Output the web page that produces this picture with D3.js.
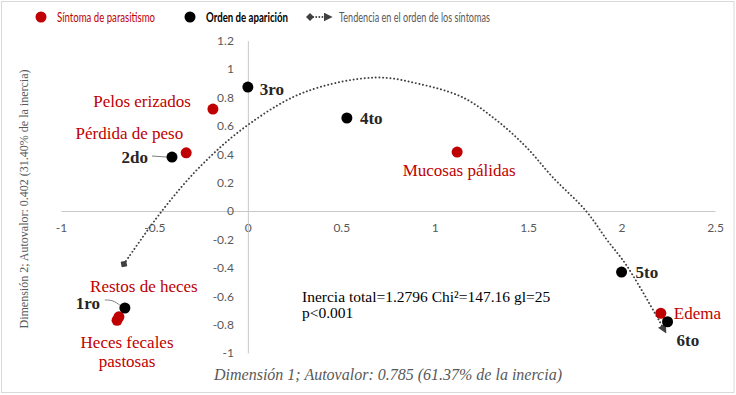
<!DOCTYPE html>
<html>
<head>
<meta charset="utf-8">
<script src="https://cdn.jsdelivr.net/npm/d3@7"></script>
<style>
body { margin: 0; background: #fff; }
</style>
</head>
<body>
<div id="chart"></div>
<script>
// síntomas de parasitismo: coordenadas en dimensión 1 y 2
var sintomas = ["Pelos erizados", "Pérdida de peso", "Mucosas pálidas", "Restos de heces", "Heces fecales pastosas", "Edema"];
var sintomaX = [-0.187, -0.33, 1.12, -0.69, -0.70, 2.21];
var sintomaY = [0.718, 0.41, 0.415, -0.745, -0.77, -0.72];

// orden de aparición
var orden = ["1ro", "2do", "3ro", "4to", "5to", "6to"];
var ordenX = [-0.658, -0.406, 0, 0.53, 2.0, 2.246];
var ordenY = [-0.683, 0.38, 0.873, 0.655, -0.43, -0.78];

// tendencia en el orden de los síntomas
var tendX = [-0.663, -0.46, -0.25, 0, 0.3, 0.68, 0.92, 1.15, 1.33, 1.49, 1.63, 1.81, 1.92, 2.03, 2.23];
var tendY = [-0.373, 0, 0.32, 0.606, 0.835, 0.94, 0.894, 0.80, 0.64, 0.45, 0.24, 0, -0.2, -0.39, -0.84];

var xTicks = [-1, -0.5, 0, 0.5, 1, 1.5, 2, 2.5];
var yTicks = [-1, -0.8, -0.6, -0.4, -0.2, 0, 0.2, 0.4, 0.6, 0.8, 1, 1.2];

var legendLabels = ["Síntoma de parasitismo", "Orden de aparición", "Tendencia en el orden de los síntomas"];
var xTitle = "Dimensión 1; Autovalor: 0.785 (61.37% de la inercia)";
var yTitle = "Dimensión 2; Autovalor: 0.402 (31.40% de la inercia)";
var notes = ["Inercia total=1.2796 Chi²=147.16 gl=25", "p<0.001"];

var W = 736, H = 395;
var red = "#c00000", gray = "#595959", axisGray = "#c8c8c8", trendGray = "#404040";
var serif = "'Liberation Serif', 'Times New Roman', serif";
var sans = "Lato, 'Open Sans', sans-serif";

var svg = d3.select("#chart").append("svg")
    .attr("width", W)
    .attr("height", H);

// outer frame
svg.append("rect")
    .attr("x", 1.5).attr("y", 1.5)
    .attr("width", W - 3.5).attr("height", H - 4)
    .attr("fill", "#fff")
    .attr("stroke", "#d9d9d9");

// scales
var x = d3.scaleLinear().domain([-1, 2.5]).range([61, 715]);
var y = d3.scaleLinear().domain([-1, 1.2]).range([353, 40.6]);

// axes crossing at the origin
var xAxis = svg.append("g")
    .attr("transform", "translate(0," + y(0) + ")")
    .call(d3.axisBottom(x).tickValues(xTicks).tickSize(0).tickPadding(12)
        .tickFormat(function (d) { return String(d); }));
var yAxis = svg.append("g")
    .attr("transform", "translate(" + x(0) + ",0)")
    .call(d3.axisLeft(y).tickValues(yTicks).tickSize(0).tickPadding(14)
        .tickFormat(function (d) { return String(Math.round(d * 10) / 10); }));

[xAxis, yAxis].forEach(function (a) {
    a.select(".domain").attr("stroke", axisGray);
    a.selectAll("text")
        .attr("fill", gray)
        .style("font-family", sans)
        .style("font-size", "12px");
});

// axis titles
svg.append("text")
    .attr("x", 388).attr("y", 380)
    .attr("text-anchor", "middle")
    .style("font-family", serif)
    .style("font-style", "italic")
    .style("font-size", "16px")
    .attr("fill", gray)
    .text(xTitle);
svg.append("text")
    .attr("transform", "translate(28,199) rotate(-90)")
    .attr("text-anchor", "middle")
    .style("font-family", serif)
    .style("font-size", "12px")
    .attr("fill", gray)
    .text(yTitle);

// markers for the trend line
var defs = svg.append("defs");
defs.append("marker")
    .attr("id", "arrow")
    .attr("viewBox", "0 -5 10 10")
    .attr("refX", 6).attr("refY", 0)
    .attr("markerWidth", 9).attr("markerHeight", 9)
    .attr("markerUnits", "userSpaceOnUse")
    .attr("orient", "auto")
    .append("path")
        .attr("d", "M0,-5L10,0L0,5Z")
        .attr("fill", trendGray);
defs.append("marker")
    .attr("id", "diamond")
    .attr("viewBox", "-5 -5 10 10")
    .attr("refX", 0).attr("refY", 0)
    .attr("markerWidth", 8).attr("markerHeight", 8)
    .attr("markerUnits", "userSpaceOnUse")
    .attr("orient", "auto")
    .append("path")
        .attr("d", "M-5,0L0,-5L5,0L0,5Z")
        .attr("fill", trendGray);

// trend line
var tend = tendX.map(function (d, i) { return [d, tendY[i]]; });
svg.append("path")
    .datum(tend)
    .attr("d", d3.line()
        .x(function (d) { return x(d[0]); })
        .y(function (d) { return y(d[1]); })
        .curve(d3.curveCatmullRom))
    .attr("fill", "none")
    .attr("stroke", trendGray)
    .attr("stroke-width", 1.9)
    .attr("stroke-dasharray", "0.1,3.6")
    .attr("stroke-linecap", "round")
    .attr("marker-start", "url(#diamond)")
    .attr("marker-end", "url(#arrow)");

// label placement (pixel offsets from each point)
var sintomaPos = {
    "Pelos erizados": { dx: -22, dy: -2, anchor: "end" },
    "Pérdida de peso": { dx: -3, dy: -14, anchor: "end" },
    "Mucosas pálidas": { dx: 2, dy: 24, anchor: "middle" },
    "Restos de heces": { dx: 25, dy: -25, anchor: "middle" },
    "Heces fecales pastosas": { dx: 10, dy: 28, anchor: "middle", lines: ["Heces fecales", "pastosas"] },
    "Edema": { dx: 13, dy: 6, anchor: "start" }
};
var ordenPos = {
    "1ro": { dx: -25, dy: 1, anchor: "end", lead: [[-20, -8], [-12, -8], [-4, -2]] },
    "2do": { dx: -24, dy: 6, anchor: "end", lead: [[-20, -1], [-5, 0]] },
    "3ro": { dx: 12, dy: 8, anchor: "start" },
    "4to": { dx: 13, dy: 6, anchor: "start" },
    "5to": { dx: 14, dy: 6, anchor: "start" },
    "6to": { dx: 9, dy: 24, anchor: "start" }
};

var sData = sintomas.map(function (d, i) { return { name: d, x: sintomaX[i], y: sintomaY[i] }; });
var oData = orden.map(function (d, i) { return { name: d, x: ordenX[i], y: ordenY[i] }; });

// leader lines for order labels
svg.selectAll(".lead")
    .data(oData.filter(function (d) { return ordenPos[d.name].lead; }))
    .enter().append("path")
        .attr("class", "lead")
        .attr("d", function (d) {
            var px = x(d.x), py = y(d.y);
            return d3.line().curve(d3.curveBasis)(ordenPos[d.name].lead.map(function (p) { return [px + p[0], py + p[1]]; }));
        })
        .attr("fill", "none")
        .attr("stroke", "#7f7f7f")
        .attr("stroke-width", 1);

// red symptom points
svg.selectAll(".sintoma")
    .data(sData)
    .enter().append("circle")
        .attr("class", "sintoma")
        .attr("cx", function (d) { return x(d.x); })
        .attr("cy", function (d) { return y(d.y); })
        .attr("r", 5.5)
        .attr("fill", red);

// black order points
svg.selectAll(".orden")
    .data(oData)
    .enter().append("circle")
        .attr("class", "orden")
        .attr("cx", function (d) { return x(d.x); })
        .attr("cy", function (d) { return y(d.y); })
        .attr("r", 5.5)
        .attr("fill", "#000");

// symptom labels
sData.forEach(function (d) {
    var p = sintomaPos[d.name];
    var lines = p.lines || [d.name];
    var t = svg.append("text")
        .attr("text-anchor", p.anchor)
        .style("font-family", serif)
        .style("font-size", "17px")
        .attr("fill", red);
    lines.forEach(function (l, i) {
        t.append("tspan")
            .attr("x", x(d.x) + p.dx)
            .attr("y", y(d.y) + p.dy + i * 19)
            .text(l);
    });
});

// order labels
svg.selectAll(".ordenLabel")
    .data(oData)
    .enter().append("text")
        .attr("class", "ordenLabel")
        .attr("x", function (d) { return x(d.x) + ordenPos[d.name].dx; })
        .attr("y", function (d) { return y(d.y) + ordenPos[d.name].dy; })
        .attr("text-anchor", function (d) { return ordenPos[d.name].anchor; })
        .style("font-family", serif)
        .style("font-weight", "bold")
        .style("font-size", "17px")
        .attr("fill", "#262626")
        .text(function (d) { return d.name; });

// statistics note
svg.append("text")
    .style("font-family", serif)
    .style("font-size", "15.5px")
    .attr("fill", "#000")
    .selectAll("tspan")
    .data(notes)
    .enter().append("tspan")
        .attr("x", 302)
        .attr("y", function (d, i) { return 302 + i * 16; })
        .text(function (d) { return d; });

// legend
var lg = svg.append("g").attr("transform", "translate(0,17)");
lg.append("circle").attr("cx", 41).attr("cy", 0).attr("r", 5.5).attr("fill", red);
lg.append("text").attr("x", 57).attr("y", 4.5)
    .attr("textLength", 98).attr("lengthAdjust", "spacingAndGlyphs")
    .style("font-family", sans).style("font-size", "13px")
    .attr("fill", red).text(legendLabels[0]);
lg.append("circle").attr("cx", 190).attr("cy", 0).attr("r", 5.5).attr("fill", "#000");
lg.append("text").attr("x", 206).attr("y", 4.5)
    .attr("textLength", 82).attr("lengthAdjust", "spacingAndGlyphs")
    .style("font-family", sans).style("font-size", "13px").style("font-weight", "bold")
    .attr("fill", "#000").text(legendLabels[1]);
lg.append("line")
    .attr("x1", 310).attr("y1", 0).attr("x2", 329).attr("y2", 0)
    .attr("stroke", trendGray)
    .attr("stroke-width", 1.8)
    .attr("stroke-dasharray", "0.1,3")
    .attr("stroke-linecap", "round")
    .attr("marker-start", "url(#diamond)")
    .attr("marker-end", "url(#arrow)");
lg.append("text").attr("x", 339).attr("y", 4.5)
    .attr("textLength", 151).attr("lengthAdjust", "spacingAndGlyphs")
    .style("font-family", sans).style("font-size", "13px")
    .attr("fill", gray).text(legendLabels[2]);
</script>
</body>
</html>
